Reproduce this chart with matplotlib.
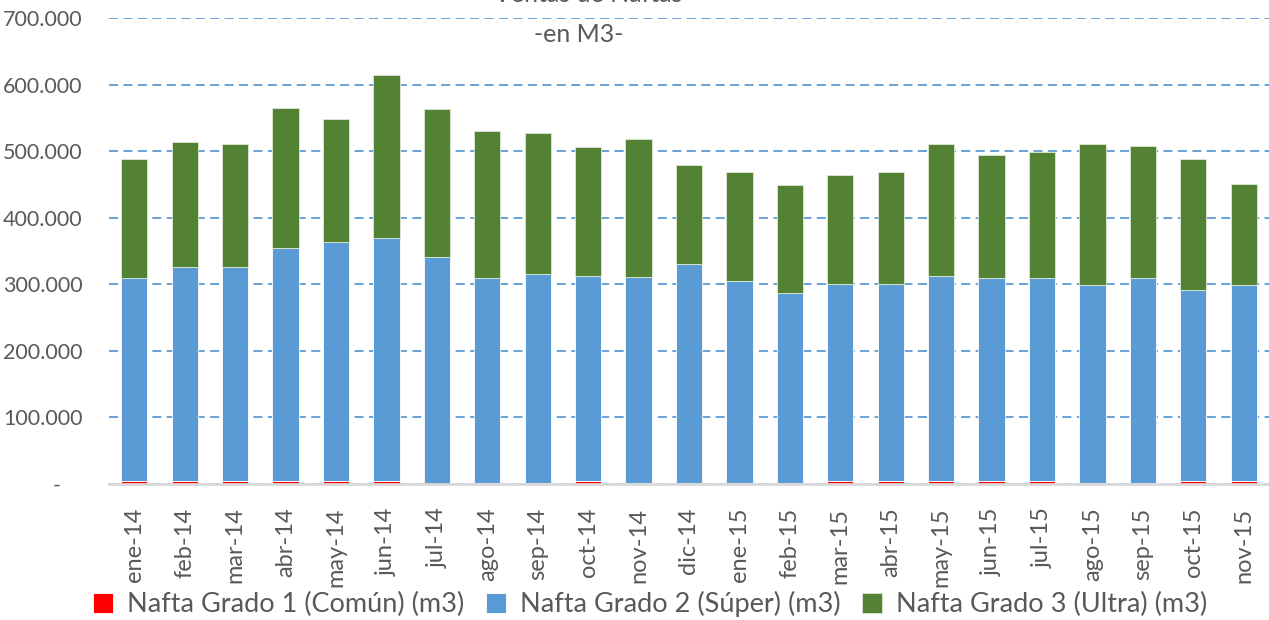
import matplotlib.pyplot as plt
import numpy as np
from matplotlib.ticker import FuncFormatter, MultipleLocator

plt.rcParams['font.family'] = ['Lato', 'DejaVu Sans']

meses = ["ene-14", "feb-14", "mar-14", "abr-14", "may-14", "jun-14", "jul-14",
         "ago-14", "sep-14", "oct-14", "nov-14", "dic-14", "ene-15", "feb-15",
         "mar-15", "abr-15", "may-15", "jun-15", "jul-15", "ago-15", "sep-15",
         "oct-15", "nov-15"]

# miles de m3
comun = [4.5, 4.5, 4.5, 4.5, 4.5, 4.5, 0.5, 2, 2, 4.5, 2, 2, 2, 2,
         4.5, 4.5, 4.5, 4.5, 4.5, 2, 2, 4.5, 4.5]
hasta_super = [309, 326, 326, 354, 363, 369, 341, 309, 315, 313, 311, 330,
               305, 287, 300, 300, 313, 309, 309, 299, 309, 291, 299]
total = [488, 514, 510, 565, 548, 615, 563, 531, 527, 506, 518, 479,
         468, 449, 464, 468, 510, 494, 499, 511, 507, 488, 451]

comun = np.array(comun) * 1000
super_ = np.array(hasta_super) * 1000 - comun
ultra = np.array(total) * 1000 - np.array(hasta_super) * 1000

gris = "#595959"
fig = plt.figure(figsize=(12.69, 6.2), dpi=100)
ax = fig.add_axes([109 / 1269, 136 / 620, 1160 / 1269, 466 / 620])

x = np.arange(len(meses))
ancho = 0.52
b1 = ax.bar(x, comun, ancho, color="#FF0000", edgecolor="white", linewidth=0.6,
            label="Nafta Grado 1 (Común) (m3)", zorder=3)
b2 = ax.bar(x, super_, ancho, bottom=comun, color="#5B9BD5", edgecolor="white",
            linewidth=0.6, label="Nafta Grado 2 (Súper) (m3)", zorder=3)
b3 = ax.bar(x, ultra, ancho, bottom=comun + super_, color="#548235",
            edgecolor="#DDE8D5", linewidth=0.6, label="Nafta Grado 3 (Ultra) (m3)",
            zorder=3)

ax.set_xlim(-0.5, len(meses) - 0.5)
ax.set_ylim(0, 700000)
ax.yaxis.set_major_locator(MultipleLocator(100000))


def miles(v, pos):
    if v == 0:
        return "-    "
    return f"{int(v):,}".replace(",", ".")


ax.yaxis.set_major_formatter(FuncFormatter(miles))
ax.grid(axis="y", color="#5B9BD5", linestyle=(0, (5, 3)), linewidth=1.3, zorder=0)
for s in ["top", "right", "left"]:
    ax.spines[s].set_visible(False)
ax.spines["bottom"].set_color("#D9D9D9")
ax.spines["bottom"].set_linewidth(2)
ax.spines["bottom"].set_zorder(4)

ax.set_xticks(x)
ax.set_xticklabels(meses, rotation=90)
ax.tick_params(axis="x", length=0, pad=17, labelsize=17, labelcolor=gris)
ax.tick_params(axis="y", length=0, pad=19, labelsize=15.5, labelcolor=gris)

fig.text(588 / 1269, 1 - 2 / 620, "Ventas de Naftas", ha="center", va="baseline",
         fontsize=18, color=gris)
fig.text(579 / 1269, 1 - 42 / 620, "-en M3-", ha="center", va="baseline",
         fontsize=18, color=gris)

fig.legend(handles=[b1, b2, b3], loc="center", bbox_to_anchor=(650 / 1269, 16 / 620),
           ncol=3, frameon=False, fontsize=19.5, labelcolor=gris,
           handlelength=0.75, handleheight=0.75, handletextpad=0.5,
           columnspacing=0.8, borderaxespad=0)

fig.savefig("out.png", dpi=100)
